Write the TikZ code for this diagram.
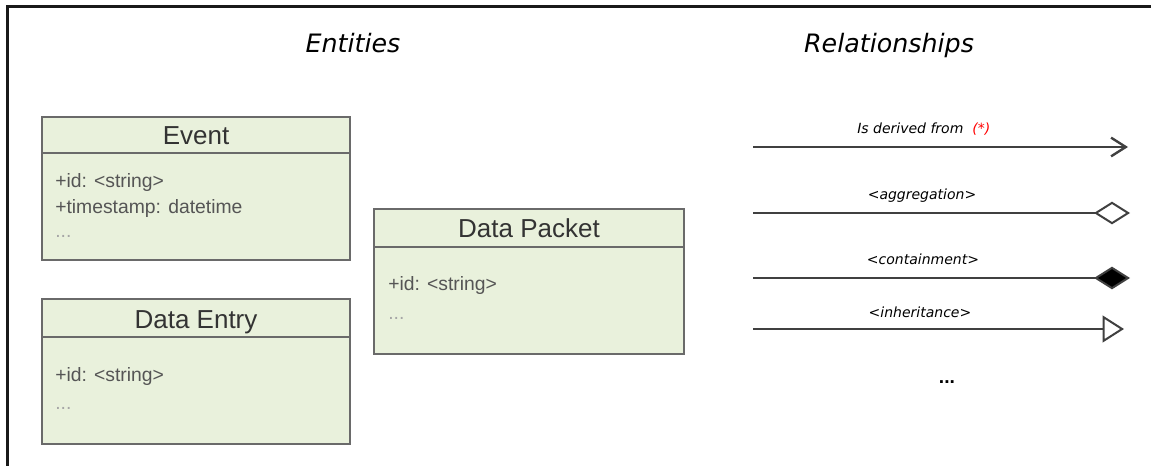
\documentclass[tikz,border=0pt]{standalone}
\usepackage{fontspec}
\setmainfont{Liberation Sans}
\newfontfamily\headfont{DejaVu Sans}
\usetikzlibrary{arrows.meta,fit}
\definecolor{boxfill}{HTML}{E9F1DC}
\definecolor{boxline}{HTML}{6A6A6A}
\definecolor{attrtext}{HTML}{555555}
\definecolor{linkline}{HTML}{404040}
\begin{document}
\begin{tikzpicture}[x=0.75pt,y=-0.75pt,
  frame/.style={line width=1.6pt,draw=black!90},
  entity/.style={draw=boxline,fill=boxfill,line width=1.2pt,inner sep=0pt},
  divider/.style={draw=boxline,line width=1.2pt},
  heading/.style={font=\headfont\itshape\fontsize{19}{23}\selectfont,inner sep=0pt,anchor=base},
  etitle/.style={font=\fontsize{19.5}{23}\selectfont,text=black!80,inner sep=0pt,anchor=base},
  attr/.style={font=\fontsize{14.5}{17}\selectfont,text=attrtext,inner sep=0pt,anchor=base west},
  more/.style={font=\fontsize{14.5}{17}\selectfont,text=black!35,inner sep=0pt,anchor=base west},
  rlabel/.style={font=\headfont\itshape\fontsize{10.5}{12}\selectfont,inner sep=0pt,anchor=base},
  link/.style={draw=linkline,line width=1.8pt},
]
\useasboundingbox (0,0) rectangle (1151,466);

% outer frame (left and top edges)
\coordinate (fbl) at (7.5,466);
\coordinate (ftl) at (7.5,6.5);
\coordinate (ftr) at (1151,6.5);
\draw[frame] (fbl) -- (ftl) -- (ftr);

% headings
\node[heading] (hent) at (353,53) {Entities};
\node[heading] (hrel) at (889,53) {Relationships};

% Event
\node[entity,fit={(42,117) (350,260)}] (ev) {};
\draw[divider] (ev.west |- 0,153) -- (ev.east |- 0,153);
\node[etitle] (evt) at (196,145) {Event};
\node[attr] (eva) at (55,188) {+id: <string>};
\node[attr] (evb) at (55,214) {+timestamp: datetime};
\node[more] (evc) at (55,238) {...};

% Data Entry
\node[entity,fit={(42,299) (350,444)}] (de) {};
\draw[divider] (de.west |- 0,337) -- (de.east |- 0,337);
\node[etitle] (det) at (196,328) {Data Entry};
\node[attr] (dea) at (55,381) {+id: <string>};
\node[more] (deb) at (55,409) {...};

% Data Packet
\node[entity,fit={(374,209) (684,354)}] (dp) {};
\draw[divider] (dp.west |- 0,247) -- (dp.east |- 0,247);
\node[etitle] (dpt) at (529,238) {Data Packet};
\node[attr] (dpa) at (388,291) {+id: <string>};
\node[more] (dpb) at (388,319) {...};

% relationship legend
\coordinate (r1s) at (753,147);  \coordinate (r1e) at (1128,147);
\coordinate (r2s) at (753,213);  \coordinate (r2e) at (1130,213);
\coordinate (r3s) at (753,278);  \coordinate (r3e) at (1130,278);
\coordinate (r4s) at (753,329);  \coordinate (r4e) at (1124,329);

\draw[link,-{Straight Barb[length=11pt,width=14pt,line width=1.8pt]}] (r1s) -- (r1e);
\draw[link,-{Diamond[open,length=27pt,width=17pt,line width=1.5pt]}] (r2s) -- (r2e);
\draw[link,-{Diamond[length=27pt,width=17pt,line width=1.5pt,fill=black]}] (r3s) -- (r3e);
\draw[link,-{Triangle[open,length=16pt,width=20pt,line width=1.5pt]}] (r4s) -- (r4e);

\node[rlabel,anchor=base west] (l1) at (857,134) {Is derived from\ \ \textcolor{red}{(*)}};
\node[rlabel] (l2) at (922,200) {<aggregation>};
\node[rlabel] (l3) at (923,265) {<containment>};
\node[rlabel] (l4) at (920,317) {<inheritance>};
\node[inner sep=0pt,anchor=base,font=\bfseries\fontsize{14.5}{17}\selectfont] (l5) at (947,383) {...};
\end{tikzpicture}
\end{document}
